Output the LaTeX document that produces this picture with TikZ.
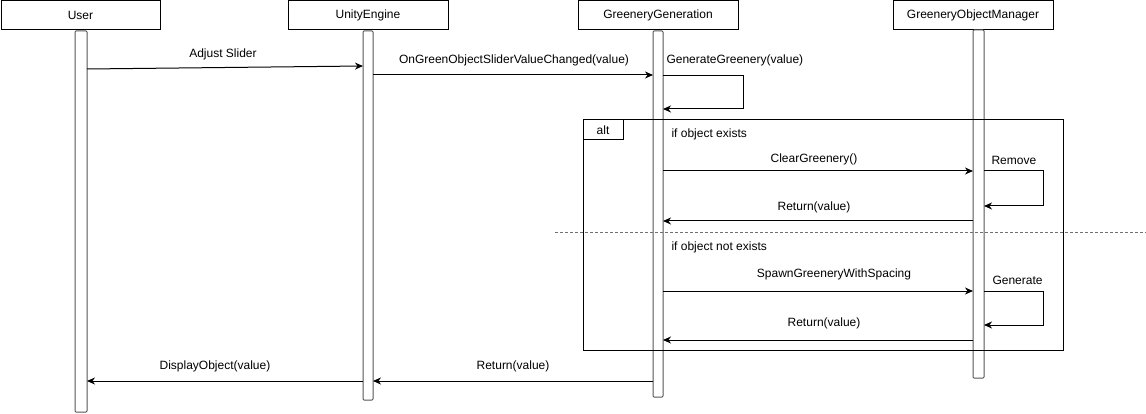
\documentclass[tikz,border=0pt]{standalone}
\usepackage{fontspec}
\setmainfont{Liberation Sans}
\usetikzlibrary{arrows.meta}
\definecolor{bargray}{HTML}{555555}
\definecolor{sepgray}{HTML}{707070}
\begin{document}
\begin{tikzpicture}[x=1pt,y=-1pt, line width=1pt,
  font=\fontsize{12}{14}\selectfont,
  head/.style={draw=black, fill=white, minimum width=160pt, minimum height=29pt, inner sep=0pt, outer sep=0pt},
  bar/.style={draw=bargray, fill=white, inner sep=0pt, outer sep=0pt, rounded corners=1pt},
  msg/.style={draw=black, -{Stealth[length=8pt,width=7pt,inset=2.5pt]}},
  lbl/.style={inner sep=0pt, anchor=center},
  lbll/.style={inner sep=0pt, anchor=west},
  sepline/.style={draw=sepgray, dash pattern=on 3pt off 2pt},
  frame/.style={draw=black, inner sep=0pt, outer sep=0pt},
]
\useasboundingbox (0,0) rectangle (1146,414);
\fill[white] (0,0) rectangle (1146,414);

% lifeline heads
\node[head, minimum width=159pt] (user) at (80.5,15.5) {User};
\node[head] (ue) at (368,15.5) {UnityEngine};
\node[head] (gg) at (658,15.5) {GreeneryGeneration};
\node[head] (gom) at (973,15.5) {GreeneryObjectManager};

% activation bars
\node[bar, minimum width=12pt, minimum height=381pt] (userbar) at (81,221.5) {};
\node[bar, minimum width=10pt, minimum height=369pt] (uebar) at (368,215.5) {};
\node[bar, minimum width=10pt, minimum height=366pt] (ggbar) at (658,214) {};
\node[bar, minimum width=11pt, minimum height=348pt] (gombar) at (978.5,204) {};

% alt frame
\node[frame, minimum width=480pt, minimum height=230pt] (altframe) at (823,235) {};
\node[frame, minimum width=40pt, minimum height=20pt] (alttab) at (603,130) {alt};
\coordinate (sepL) at (555,233);
\coordinate (sepR) at (1146,233);
\draw[sepline] (sepL) -- (sepR);

% messages
\draw[msg] (userbar.east |- 0,69) -- (uebar.west |- 0,66);
\draw[msg] (uebar.east |- 0,75) -- (ggbar.west |- 0,75);
\draw[msg] (ggbar.east |- 0,76) -- (743,76) -- (743,109) -- (ggbar.east |- 0,109);
\draw[msg] (ggbar.east |- 0,171) -- (gombar.west |- 0,171);
\draw[msg] (gombar.east |- 0,171) -- (1043,171) -- (1043,206) -- (gombar.east |- 0,206);
\draw[msg] (gombar.west |- 0,221) -- (ggbar.east |- 0,221);
\draw[msg] (ggbar.east |- 0,291) -- (gombar.west |- 0,291);
\draw[msg] (gombar.east |- 0,291) -- (1043,291) -- (1043,325) -- (gombar.east |- 0,325);
\draw[msg] (gombar.west |- 0,340) -- (ggbar.east |- 0,340);
\draw[msg] (ggbar.west |- 0,381) -- (uebar.east |- 0,381);
\draw[msg] (uebar.west |- 0,381) -- (userbar.east |- 0,381);

% labels
\node[lbl] (l1) at (223,54) {Adjust Slider};
\node[lbl] (l2) at (514,60) {OnGreenObjectSliderValueChanged(value)};
\node[lbll] (l3) at (666,60) {GenerateGreenery(value)};
\node[lbll] (c1) at (671,134) {if object exists};
\node[lbl] (l4) at (814,159) {ClearGreenery()};
\node[lbll] (l5) at (991,160) {Remove};
\node[lbl] (l6) at (814,207) {Return(value)};
\node[lbll] (c2) at (671,247) {if object not exists};
\node[lbl] (l7) at (834,274) {SpawnGreeneryWithSpacing};
\node[lbll] (l8) at (992,280) {Generate};
\node[lbl] (l9) at (824,323) {Return(value)};
\node[lbl] (l10) at (513,366) {Return(value)};
\node[lbl] (l11) at (215,366) {DisplayObject(value)};
\end{tikzpicture}
\end{document}
